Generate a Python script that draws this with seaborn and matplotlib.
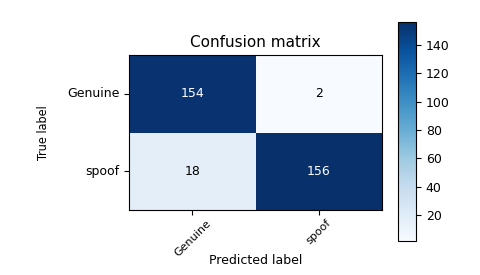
import numpy as np
import pandas as pd
import seaborn as sns
import matplotlib
matplotlib.use("Agg")
import matplotlib.pyplot as plt

CLASSES = ["Genuine", "spoof"]
COUNTS = [[154, 2],
          [18, 156]]


def plot_confusion_matrix(cm, classes):
    df = pd.DataFrame(np.array(cm), index=classes, columns=classes)
    fig = plt.figure(figsize=(4.8, 2.75), dpi=100)
    ax = fig.add_axes([0.269, 0.236, 0.527, 0.564])
    cax = fig.add_axes([0.829, 0.124, 0.0375, 0.796])
    sns.heatmap(df, cmap="Blues", annot=False, cbar=True, cbar_ax=cax,
                square=False, ax=ax, linewidths=0)
    thresh = df.values.max() / 2.0
    for i in range(len(classes)):
        for j in range(len(classes)):
            v = df.values[i, j]
            ax.text(j + 0.5, i + 0.5, str(v), ha="center", va="center",
                    fontsize=9, color="white" if v > thresh else "black")
    for s in ax.spines.values():
        s.set_visible(True)
        s.set_color("black")
        s.set_linewidth(0.8)
    ax.tick_params(axis="both", length=3.5, labelsize=9)
    ax.tick_params(axis="x", labelsize=8, pad=2)
    ax.set_xticklabels(classes, rotation=45, ha="center")
    ax.set_yticklabels(classes, rotation=0)
    ax.set_title("Confusion matrix", fontsize=11)
    ax.set_xlabel("Predicted label", fontsize=9)
    ax.xaxis.set_label_coords(0.5, -0.28)
    ax.set_ylabel("True label", fontsize=9, fontstretch="condensed", labelpad=12)
    cb = ax.collections[0].colorbar
    cb.outline.set_visible(True)
    cb.outline.set_edgecolor("black")
    cb.outline.set_linewidth(0.8)
    cb.set_ticks([20, 40, 60, 80, 100, 120, 140])
    cax.tick_params(labelsize=9, length=3.5)
    fig.savefig("out.png", dpi=100)


plot_confusion_matrix(COUNTS, CLASSES)
